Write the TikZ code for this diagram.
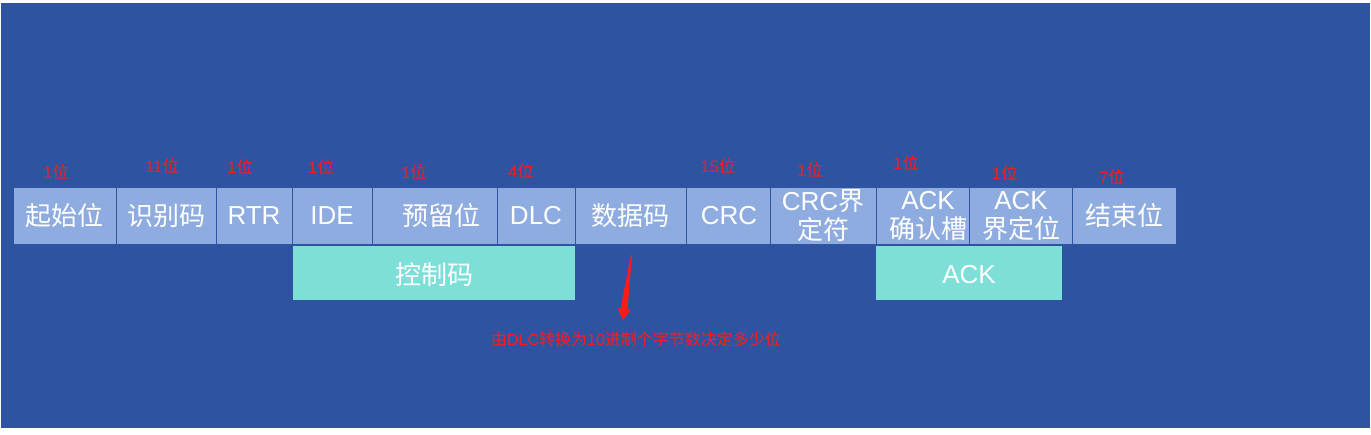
\documentclass[tikz,border=0pt]{standalone}
\usepackage{fontspec}
\setmainfont{Liberation Sans}
\newfontfamily\cjk{Noto Sans CJK SC}
\usetikzlibrary{arrows.meta}
\definecolor{bgblue}{HTML}{2E54A1}
\definecolor{cellblue}{HTML}{8FACE0}
\definecolor{divblue}{HTML}{2F55A3}
\definecolor{teal}{HTML}{7EDFD8}
\definecolor{redtxt}{HTML}{FF1A1A}
\tikzset{
  cell/.style={fill=cellblue, draw=divblue, line width=1pt},
  group/.style={fill=teal, draw=none},
  lbl/.style={text=white, font=\fontsize{26}{29}\selectfont, align=center, inner sep=0pt},
  bits/.style={text=redtxt, font=\fontsize{16.5}{18}\selectfont, inner sep=0pt},
}
\begin{document}
\begin{tikzpicture}[x=1pt,y=-1pt]
\useasboundingbox (0,0) rectangle (1371,435);
\fill[white] (0,0) rectangle (1371,435);
\fill[bgblue] (1,3) rectangle (1370,428);
% top row cells
\foreach \a/\b in {13/116,116/216,216/292,292/372,372/497,497/575,575/686,686/770,770/876,876/969,969/1072,1072/1176}{
  \draw[cell] (\a,188) rectangle (\b,245);
}
% group boxes
\fill[group] (293,246) rectangle (575,300);
\fill[group] (876,246) rectangle (1062,300);
% labels
\node[lbl] (qsw) at (64,216) {\cjk 起始位};
\node[lbl] (sbm) at (166,216) {\cjk 识别码};
\node[lbl] (rtr) at (254,216) {RTR};
\node[lbl] (ide) at (332,216) {IDE};
\node[lbl] (ylw) at (441,216) {\cjk 预留位};
\node[lbl] (dlc) at (536,216) {DLC};
\node[lbl] (sjm) at (630,216) {\cjk 数据码};
\node[lbl] (crc) at (729,216) {CRC};
\node[lbl] (crcj) at (823,216) {CRC{\cjk 界}\\{\cjk 定符}};
\node[lbl] (ackq) at (928,216) {ACK\\{\cjk 确认槽}};
\node[lbl] (ackj) at (1021,216) {ACK\\{\cjk 界定位}};
\node[lbl] (jsw) at (1124,216) {\cjk 结束位};
\node[lbl] (kzm) at (434,275) {\cjk 控制码};
\node[lbl] (ack) at (969,275) {ACK};
% bit counts
\node[bits] (b1) at (56,172) {1{\cjk 位}};
\node[bits] (b2) at (162,166) {11{\cjk 位}};
\node[bits] (b3) at (240,167) {1{\cjk 位}};
\node[bits] (b4) at (321,167) {1{\cjk 位}};
\node[bits] (b5) at (414,172) {1{\cjk 位}};
\node[bits] (b6) at (521,171) {4{\cjk 位}};
\node[bits] (b7) at (718,166) {15{\cjk 位}};
\node[bits] (b8) at (810,170) {1{\cjk 位}};
\node[bits] (b9) at (906,163) {1{\cjk 位}};
\node[bits] (b10) at (1005,173) {1{\cjk 位}};
\node[bits] (b11) at (1112,177) {7{\cjk 位}};
% caption
\node[text=redtxt, font=\fontsize{16}{18}\selectfont, inner sep=0pt] (cap) at (636,339) {{\cjk 由}DLC{\cjk 转换为}10{\cjk 进制个字节数决定多少位}};
% tapered arrow
\coordinate (as) at (632,255);
\coordinate (at) at (623,320);
\fill[redtxt] (as) -- (627.5,309) -- (630.5,310) -- (at) -- (617.5,308) -- (620.5,309) -- (631,255) -- cycle;
\end{tikzpicture}
\end{document}
